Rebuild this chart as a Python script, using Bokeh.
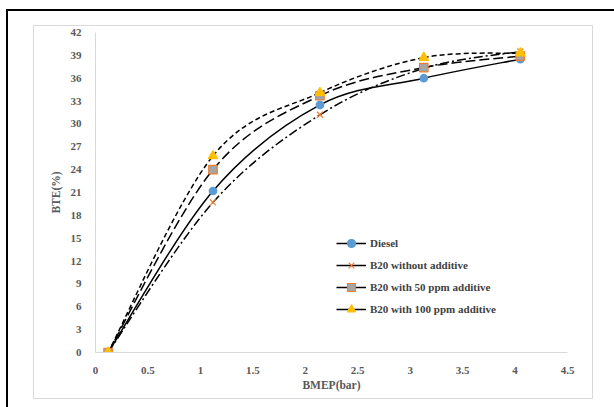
from bokeh.plotting import figure
from bokeh.models import (FixedTicker, Legend, LegendItem, ColumnDataSource,
                          Range1d, InlineStyleSheet)
from bokeh.embed import file_html
from bokeh.resources import INLINE

# Brake mean effective pressure (bar) and brake thermal efficiency (%)
bmep = [0.12, 1.12, 2.14, 3.13, 4.05]
diesel = [0.0, 21.2, 32.5, 36.0, 38.5]
b20_plain = [0.0, 19.7, 31.2, 37.3, 39.5]
b20_50ppm = [0.0, 24.0, 33.7, 37.4, 38.9]
b20_100ppm = [0.0, 25.8, 34.1, 38.7, 39.3]

series_names = ["Diesel", "B20 without additive",
                "B20 with 50 ppm additive", "B20 with 100 ppm additive"]

x_ticks = [0, 0.5, 1, 1.5, 2, 2.5, 3, 3.5, 4, 4.5]
x_tick_labels = ["0", "0.5", "1", "1.5", "2", "2.5", "3", "3.5", "4", "4.5"]
y_ticks = [0, 3, 6, 9, 12, 15, 18, 21, 24, 27, 30, 33, 36, 39, 42]

FONT = "Liberation Serif"
TXT = "#595959"

p = figure(width=614, height=407, output_backend="svg", toolbar_location=None,
           x_range=Range1d(0, 4.5), y_range=Range1d(0, 42),
           min_border_left=95, min_border_right=47,
           min_border_top=32, min_border_bottom=55)
p.outline_line_color = None
p.xgrid.visible = False
p.ygrid.visible = False

for ax in (p.xaxis[0], p.yaxis[0]):
    ax.axis_line_color = "#d9d9d9"
    ax.major_tick_line_color = None
    ax.minor_tick_line_color = None
    ax.major_label_text_font = FONT
    ax.major_label_text_font_style = "bold"
    ax.major_label_text_font_size = "11px"
    ax.major_label_text_color = TXT
    ax.axis_label_text_font = FONT
    ax.axis_label_text_font_style = "bold"
    ax.axis_label_text_font_size = "11.5px"
    ax.axis_label_text_color = TXT

p.xaxis.ticker = FixedTicker(ticks=x_ticks)
p.xaxis.major_label_overrides = {t: s for t, s in zip(x_ticks, x_tick_labels)}
p.xaxis.major_label_standoff = 8
p.xaxis.axis_label = "BMEP(bar)"
p.xaxis.axis_label_standoff = 2

p.yaxis.ticker = FixedTicker(ticks=y_ticks)
p.yaxis.major_label_standoff = 8
p.yaxis.axis_label = "BTE(%)"
p.yaxis.axis_label_standoff = 6


def smooth_segments(xs, ys):
    """Cubic Bezier control points for a smoothed line through the points."""
    n = len(xs)
    seg = dict(x0=[], y0=[], x1=[], y1=[], cx0=[], cy0=[], cx1=[], cy1=[])
    for i in range(n - 1):
        a = max(i - 1, 0)
        d = min(i + 2, n - 1)
        seg["x0"].append(xs[i]); seg["y0"].append(ys[i])
        seg["x1"].append(xs[i + 1]); seg["y1"].append(ys[i + 1])
        seg["cx0"].append(xs[i] + (xs[i + 1] - xs[a]) / 6)
        seg["cy0"].append(ys[i] + (ys[i + 1] - ys[a]) / 6)
        seg["cx1"].append(xs[i + 1] - (xs[d] - xs[i]) / 6)
        seg["cy1"].append(ys[i + 1] - (ys[d] - ys[i]) / 6)
    return ColumnDataSource(seg)


styles = [
    dict(y=diesel, dash="solid", marker="circle", size=7.5,
         fill="#5B9BD5", line="#5B9BD5"),
    dict(y=b20_plain, dash="9 3 2 3", marker="x", size=8.5,
         fill="#ED7D31", line="#ED7D31"),
    dict(y=b20_50ppm, dash="10 4", marker="square", size=8.5,
         fill="#A5A5A5", line="#ED7D31"),
    dict(y=b20_100ppm, dash="5 3", marker="triangle", size=9.5,
         fill="#FFC000", line="#FFC000"),
]

for s in styles:
    p.bezier(source=smooth_segments(bmep, s["y"]), x0="x0", y0="y0",
             x1="x1", y1="y1", cx0="cx0", cy0="cy0", cx1="cx1", cy1="cy1",
             line_color="black", line_width=1.5, line_dash=s["dash"])

for s in styles:
    p.scatter(bmep, s["y"], marker=s["marker"], size=s["size"],
              fill_color=s["fill"], line_color=s["line"], line_width=1.2)

# Legend samples: solid black stroke with the series marker (kept off-range)
items = []
for name, s in zip(series_names, styles):
    ln = p.line([-10, -9], [-10, -10], line_color="black", line_width=1.5)
    mk = p.scatter([-10], [-10], marker=s["marker"], size=s["size"],
                   fill_color=s["fill"], line_color=s["line"], line_width=1.2)
    items.append(LegendItem(label=name, renderers=[ln, mk]))

legend = Legend(items=items, location=(241, 33), padding=0, margin=0,
                glyph_width=30, glyph_height=20, label_height=20, spacing=2,
                label_standoff=4, label_text_font=FONT,
                label_text_font_style="bold", label_text_font_size="11px",
                label_text_color="#404040", border_line_color=None,
                background_fill_alpha=0)
p.add_layout(legend, "center")

# Chart-area border and outer page frame
p.stylesheets = [InlineStyleSheet(css="""
:host { position: relative; }
:host::before {
  content: ""; position: absolute; left: 33px; top: 25px;
  width: 558px; height: 372px; border: 1px solid #d9d9d9;
  pointer-events: none; z-index: 5;
}
:host::after {
  content: ""; position: absolute; left: 6px; top: 9px;
  width: 640px; height: 440px; border: 2.5px solid #000;
  pointer-events: none; z-index: 6;
}
""")]

open("out.html", "w").write(file_html(p, INLINE))
